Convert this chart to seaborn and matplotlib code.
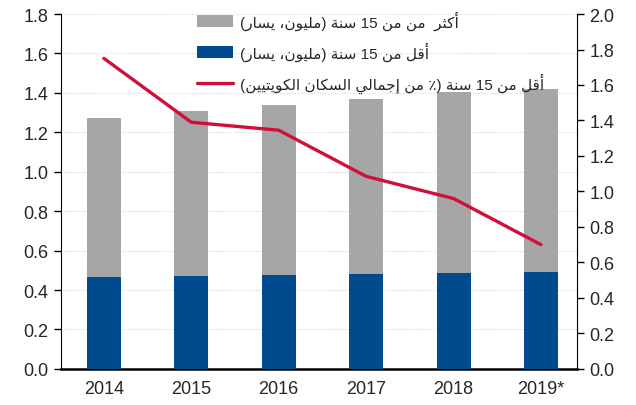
import numpy as np
import pandas as pd
import matplotlib
matplotlib.use("Agg")
import matplotlib.pyplot as plt
import seaborn as sns
from matplotlib.patches import Patch
from matplotlib.lines import Line2D

# Data
years = ["2014", "2015", "2016", "2017", "2018", "2019*"]
under15_mn = [0.467, 0.472, 0.477, 0.482, 0.487, 0.490]
over15_mn = [0.806, 0.836, 0.862, 0.887, 0.918, 0.930]
under15_pct = [1.75, 1.39, 1.345, 1.085, 0.96, 0.70]

labels = [
    "أكثر  من من 15 سنة (مليون، يسار)",
    "أقل من 15 سنة (مليون، يسار)",
    "أقل من 15 سنة (٪ من إجمالي السكان الكويتيين)",
]

# minimal Arabic shaping + RTL ordering (matplotlib has no text shaping)
FORMS = {  # isolated, final, initial, medial
    "ا": (0xFE8D, 0xFE8E, None, None), "أ": (0xFE83, 0xFE84, None, None),
    "إ": (0xFE87, 0xFE88, None, None), "ب": (0xFE8F, 0xFE90, 0xFE91, 0xFE92),
    "ة": (0xFE93, 0xFE94, None, None), "ت": (0xFE95, 0xFE96, 0xFE97, 0xFE98),
    "ث": (0xFE99, 0xFE9A, 0xFE9B, 0xFE9C), "ج": (0xFE9D, 0xFE9E, 0xFE9F, 0xFEA0),
    "ر": (0xFEAD, 0xFEAE, None, None), "س": (0xFEB1, 0xFEB2, 0xFEB3, 0xFEB4),
    "ق": (0xFED5, 0xFED6, 0xFED7, 0xFED8), "ك": (0xFED9, 0xFEDA, 0xFEDB, 0xFEDC),
    "ل": (0xFEDD, 0xFEDE, 0xFEDF, 0xFEE0), "م": (0xFEE1, 0xFEE2, 0xFEE3, 0xFEE4),
    "ن": (0xFEE5, 0xFEE6, 0xFEE7, 0xFEE8), "و": (0xFEED, 0xFEEE, None, None),
    "ي": (0xFEF1, 0xFEF2, 0xFEF3, 0xFEF4),
}


def shape_rtl(s):
    out = []
    for i, ch in enumerate(s):
        if ch not in FORMS:
            out.append(ch)
            continue
        prev = s[i - 1] if i > 0 else ""
        nxt = s[i + 1] if i + 1 < len(s) else ""
        pj = prev in FORMS and FORMS[prev][2] is not None
        nj = nxt in FORMS and FORMS[ch][2] is not None
        iso, fin, ini, med = FORMS[ch]
        code = med if (pj and nj) else fin if pj else ini if nj else iso
        out.append(chr(code))
    # visual order: reverse, but keep digit runs left-to-right
    tokens, buf = [], ""
    for ch in out:
        if ch.isdigit():
            buf += ch
        else:
            if buf:
                tokens.append(buf)
                buf = ""
            tokens.append({"(": ")", ")": "("}.get(ch, ch))
    if buf:
        tokens.append(buf)
    return "".join(tokens[::-1])


df = pd.DataFrame({"year": years, "under": under15_mn, "over": over15_mn, "pct": under15_pct})
df["total"] = df["under"] + df["over"]

sns.set_style("white")
plt.rcParams["font.family"] = ["Liberation Sans", "DejaVu Sans"]
plt.rcParams["font.size"] = 13

grey = "#A6A6A6"
blue = "#004B8D"
red = "#D0103A"

fig = plt.figure(figsize=(6.36, 4.06), dpi=100)
ax = fig.add_axes([0.096, 0.089, 0.811, 0.874])

ax.yaxis.grid(True, color="#D5D5D5", linestyle=(0, (1, 1.5)), linewidth=0.8)
ax.set_axisbelow(True)
sns.barplot(data=df, x="year", y="total", color=grey, width=0.39, saturation=1,
            linewidth=0, ax=ax, zorder=2)
sns.barplot(data=df, x="year", y="under", color=blue, width=0.39, saturation=1,
            linewidth=0, ax=ax, zorder=3)

ax.set_ylim(0, 1.8)
ax.set_yticks(np.arange(0, 1.81, 0.2))
ax.set_yticklabels([f"{v:.1f}" for v in np.arange(0, 1.81, 0.2)])
ax.set_xlim(-0.49, 5.41)
ax.set_xlabel("")
ax.set_ylabel("")
ax.set_xticks(np.arange(-0.5, 5.6, 1.0), minor=True)
ax.tick_params(axis="x", which="major", length=0, pad=8, labelsize=13)
ax.tick_params(axis="x", which="minor", length=5, width=1, color="black", direction="out")
ax.tick_params(axis="y", length=5, width=1, color="black", direction="out", labelsize=13, pad=4)
ax.spines["top"].set_visible(False)
ax.spines["right"].set_visible(False)
ax.spines["left"].set_color("black")
ax.spines["bottom"].set_color("black")
ax.spines["bottom"].set_linewidth(1.8)

ax2 = ax.twinx()
sns.lineplot(x=np.arange(len(years)), y=df["pct"].values, color=red, linewidth=2.4, ax=ax2, zorder=4)
ax2.set_ylim(0, 2.0)
ax2.set_yticks(np.arange(0, 2.01, 0.2))
ax2.set_yticklabels([f"{v:.1f}" for v in np.arange(0, 2.01, 0.2)])
ax2.tick_params(axis="y", length=5, width=1, color="black", direction="out", labelsize=13, pad=4)
for side in ["top", "left", "bottom"]:
    ax2.spines[side].set_visible(False)
ax2.spines["right"].set_color("black")
ax2.set_xlim(-0.49, 5.41)

handles = [
    Patch(facecolor=grey, edgecolor="none"),
    Patch(facecolor=blue, edgecolor="none"),
    Line2D([0], [0], color=red, linewidth=2.4),
]
leg = ax2.legend(handles, [shape_rtl(l) for l in labels], loc="upper left",
                 bbox_to_anchor=(0.295, 0.995), bbox_transform=fig.transFigure,
                 frameon=False, fontsize=11, handlelength=2.4, handleheight=0.8,
                 handletextpad=0.4, labelspacing=0.78, borderaxespad=0.2)
for t in leg.get_texts():
    t.set_family(["Liberation Sans", "DejaVu Sans"])

fig.savefig("out.png", dpi=100)
